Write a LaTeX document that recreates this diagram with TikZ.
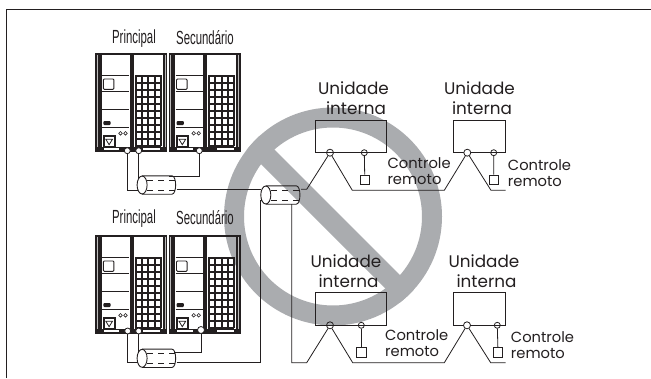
\documentclass[tikz,border=0pt]{standalone}
\usepackage{fontspec}
\setmainfont{Poppins}
\newfontfamily\narrowfont[FakeStretch=0.6]{Liberation Sans}
\usepackage{xcolor}
\usetikzlibrary{positioning, calc}
\definecolor{inkdark}{RGB}{35, 31, 32}
\definecolor{ringgray}{RGB}{170, 172, 175}

\tikzset{
  outunit/.pic={
    \fill[inkdark] (0,0) rectangle (72,2);
    \fill[inkdark] (0,0) rectangle (6.5,99);
    \fill[inkdark] (34.7,0) rectangle (38.7,94);
    \fill[inkdark] (67.5,0) rectangle (72,99);
    \fill[inkdark] (0,94) rectangle (72,99);
    \draw[white!70!inkdark, line width=0.5pt] (1.6,2) -- (1.6,94) (69.7,2) -- (69.7,94);
    \fill[white] (8.7,95.2) rectangle (24,97.6);
    \fill[white] (48,95.2) rectangle (65,97.6);
    \foreach \yy in {22.3, 39, 56.3, 74.6}
      \draw[inkdark, line width=0.8pt] (7,\yy) -- (34,\yy);
    \draw[inkdark, line width=0.9pt, rounded corners=1pt] (8,26.3) rectangle (18.6,36.6);
    \fill[inkdark, rounded corners=1pt] (8,68.3) rectangle (15.3,72.3);
    \draw[inkdark, line width=0.6pt] (25.2,80.6) circle (1.8) (30.2,80.6) circle (1.8);
    \draw[inkdark, line width=1.5pt] (8.5,83.5) rectangle (19.5,94);
    \draw[inkdark, line width=0.8pt] (10.5,86.5) -- (17.2,86.5) -- (13.8,92) -- cycle;
    \foreach \xx in {40.2, 46.6, 53, 59.4, 65.3}
      \draw[inkdark, line width=2pt] (\xx,22.3) -- (\xx,93);
    \foreach \yy in {22.8, 29.8, 36.8, 43.8, 50.8, 57.8, 64.8, 71.8, 78.8, 85.8, 93}
      \draw[inkdark, line width=2pt] (39.7,\yy) -- (65.3,\yy);
  }
}
% tube outline around an empty node
\newcommand{\cablebody}[1]{
  \draw[cableline] ($(#1.west)+(5,0)$) ellipse (5 and 9);
  \draw[cableline] ($(#1.north west)+(5,0)$) -- ($(#1.north east)+(-5,0)$)
    .. controls (#1.north east) and (#1.south east) .. ($(#1.south east)+(-5,0)$) -- ($(#1.south west)+(5,0)$);
}

\begin{document}
\begin{tikzpicture}[
    x=1pt, y=-1pt, inkdark,
    wire/.style={draw=inkdark, line width=0.8pt},
    portc/.style={circle, draw=inkdark, line width=0.8pt, inner sep=0pt, minimum size=7pt},
    smallport/.style={circle, draw=inkdark, line width=0.8pt, inner sep=0pt, minimum size=6pt},
    outport/.style={smallport, fill=white},
    indoor/.style={rectangle, draw=inkdark, line width=0.8pt, inner sep=0pt, minimum height=32.7pt},
    remotebox/.style={rectangle, draw=inkdark, line width=0.7pt, inner sep=0pt, minimum size=9.4pt},
    cable/.style={rectangle, inner sep=0pt, minimum height=18pt},
    cableline/.style={draw=inkdark, line width=0.9pt},
    dashin/.style={draw=inkdark, line width=0.8pt, dash pattern=on 6pt off 5pt},
    unitlabel/.style={font=\fontsize{16.8}{19.4}\selectfont, align=center, inner sep=0pt},
    ctrllabel/.style={font=\fontsize{14.7}{16.4}\selectfont, align=left, inner sep=0pt, anchor=west},
    outlabel/.style={font=\narrowfont\fontsize{19}{20}\selectfont, inner sep=0pt}
  ]
    \useasboundingbox (0,0) rectangle (651,378);
    \fill[white] (0,0) rectangle (651,378);

    % prohibition sign
    \begin{scope}
      \clip (333,216.5) circle (109);
      \fill[ringgray] (200,75) -- (460,335) -- (460,363) -- (200,103) -- cycle;
    \end{scope}
    \draw[ringgray, line width=20pt] (333,216.5) circle (99);

    % frame
    \draw[inkdark, line width=1.3pt] (6.5,378) -- (6.5,9.5) -- (651,9.5);

    % outdoor units
    \pic at (95.3,52.7) {outunit};
    \pic at (168.5,52.7) {outunit};
    \pic at (95.3,234.7) {outunit};
    \pic at (168.5,234.7) {outunit};
    \node (prinA) [outlabel] at (134,39) {Principal};
    \node (secA) [outlabel] at (205,38) {Secundário};
    \node (prinB) [outlabel] at (134,219) {Principal};
    \node (secB) [outlabel] at (205,218) {Secundário};

    % ports and cables
    \node (portA) [outport] at (127.3,150.7) {};
    \node (portB) [outport] at (138.7,150.7) {};
    \node (portC) [outport] at (199.3,150.7) {};
    \node (portD) [outport] at (127.7,331) {};
    \node (portE) [outport] at (138.7,331) {};
    \node (portF) [outport, minimum size=7pt] at (201,330) {};
    \node (cableA) [cable, minimum width=39.4pt] at (157,185) {};
    \node (cableB) [cable, minimum width=39.4pt] at (157,358.3) {};
    \node (cableC) [cable, minimum width=40pt] at (281,195) {};
    \cablebody{cableA}
    \cablebody{cableB}
    \cablebody{cableC}
    \draw[dashin] (147,180) -- (175,180) (147,190) -- (175,190);
    \draw[dashin] (147,353) -- (175,353) (147,363) -- (175,363);
    \draw[dashin] (271,190) -- (299,190) (271,200) -- (299,200);

    % indoor units
    \node (inA) [indoor, minimum width=70.6pt] at (351,136.4) {};
    \node (inB) [indoor, minimum width=52.7pt] at (479.3,136.4) {};
    \node (inC) [indoor, minimum width=70.6pt] at (351,309) {};
    \node (inD) [indoor, minimum width=52.4pt] at (479.5,309) {};
    \node (tapA) [portc] at (330,152.7) {};
    \node (tapB) [portc, fill=white] at (467.3,152.7) {};
    \node (tapC) [portc] at (330,325.3) {};
    \node (tapD) [portc, fill=white] at (467,325.3) {};
    \node (ctlA) [smallport] at (364.3,152.7) {};
    \node (ctlB) [smallport] at (493.7,152.7) {};
    \node (ctlC) [smallport] at (361.3,325.3) {};
    \node (ctlD) [smallport] at (497.3,325.3) {};
    \node (remA) [remotebox] at (364.8,179.7) {};
    \node (remB) [remotebox] at (493.8,179.7) {};
    \node (remC) [remotebox] at (361.3,352.5) {};
    \node (remD) [remotebox] at (498,352.5) {};

    \node (lblA) [unitlabel] at (353.5,98) {Unidade\\\hspace*{5pt}interna};
    \node (lblB) [unitlabel] at (479.5,98) {Unidade\\\hspace*{5pt}interna};
    \node (lblC) [unitlabel] at (346,271.3) {Unidade\\\hspace*{5pt}interna};
    \node (lblD) [unitlabel] at (484,271.3) {Unidade\\\hspace*{5pt}interna};
    \node (txtA) [ctrllabel] at (387.3,171.2) {Controle\\remoto};
    \node (txtB) [ctrllabel] at (507.7,173.4) {Controle\\remoto};
    \node (txtC) [ctrllabel] at (385,343.4) {Controle\\remoto};
    \node (txtD) [ctrllabel] at (510.7,345) {Controle\\remoto};

    % kinks
    \coordinate (cableAout) at (176.7,189.3);
    \coordinate (cableAleft) at (137.8,190);
    \coordinate (cableAtop) at (138.7,179);
    \coordinate (cableArt) at (169,176.3);
    \coordinate (cableBleft) at (137.8,362.7);
    \coordinate (cableBtop) at (138.7,352.5);
    \coordinate (cableBout) at (176.5,362.7);
    \coordinate (cableBrt) at (174,352.7);
    \coordinate (cableCin) at (261.3,189.3);
    \coordinate (cableCout) at (301,189.3);
    \coordinate (bendA) at (306.7,189.3);
    \coordinate (bendB) at (352.3,190.3);
    \coordinate (bendC) at (444.3,190.3);
    \coordinate (bendD) at (491,190.3);
    \coordinate (endA) at (505.7,190.3);
    \coordinate (cableClow) at (262,200);
    \coordinate (cableCrt) at (291.7,204);
    \coordinate (bendE) at (306.7,362.7);
    \coordinate (bendF) at (352.7,362.7);
    \coordinate (bendG) at (444.3,362.7);
    \coordinate (bendH) at (490.7,362.7);
    \coordinate (endB) at (505.7,362.7);

    % wiring
    \draw[wire] (portA) |- (cableAleft);
    \draw[wire] (portB) -- (cableAtop);
    \draw[wire] (portC) |- (cableArt);
    \draw[wire] (cableAout) -- (cableCin);
    \draw[wire] (portD) |- (cableBleft);
    \draw[wire] (portE) -- (cableBtop);
    \draw[wire] (portF) |- (cableBrt);
    \draw[wire] (cableBout) -- (260,362.7) -- (260,200) -- (cableClow);
    \draw[wire] (cableCrt) |- (bendE) -- (tapC) -- (bendF) -- (bendG) -- (tapD) -- (bendH) -- (endB);
    \draw[wire] (cableCout) -- (bendA) -- (tapA) -- (bendB) -- (bendC) -- (tapB) -- (bendD) -- (endA);
    \draw[wire] (ctlA) -- (remA);
    \draw[wire] (ctlB) -- (remB);
    \draw[wire] (ctlC) -- (remC);
    \draw[wire] (ctlD) -- (remD);
  \end{tikzpicture}
\end{document}
